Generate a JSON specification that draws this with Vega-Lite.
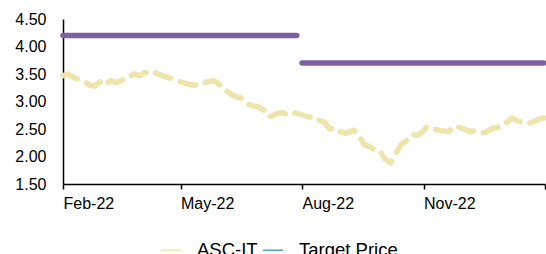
{
  "$schema": "https://vega.github.io/schema/vega-lite/v6.json",
  "width": 482,
  "height": 165,
  "autosize": {"type": "none"},
  "padding": {"left": 63, "top": 19, "right": 1, "bottom": 70},
  "config": {
    "view": {"stroke": null},
    "font": "Liberation Sans",
    "axis": {"labelFont": "Liberation Sans", "labelColor": "#000000", "domainColor": "#000000", "tickColor": "#000000", "grid": false, "title": null}
  },
  "datasets": {
    "price": [
      {"d": "2022-02-01", "v": 3.47}, {"d": "2022-02-05", "v": 3.5}, {"d": "2022-02-09", "v": 3.44},
      {"d": "2022-02-13", "v": 3.4}, {"d": "2022-02-17", "v": 3.37}, {"d": "2022-02-21", "v": 3.3},
      {"d": "2022-02-25", "v": 3.28}, {"d": "2022-03-01", "v": 3.36}, {"d": "2022-03-05", "v": 3.3},
      {"d": "2022-03-09", "v": 3.38}, {"d": "2022-03-13", "v": 3.34}, {"d": "2022-03-19", "v": 3.4},
      {"d": "2022-03-23", "v": 3.45}, {"d": "2022-03-27", "v": 3.5}, {"d": "2022-03-31", "v": 3.47},
      {"d": "2022-04-04", "v": 3.53}, {"d": "2022-04-08", "v": 3.5}, {"d": "2022-04-12", "v": 3.52},
      {"d": "2022-04-18", "v": 3.46}, {"d": "2022-04-24", "v": 3.42}, {"d": "2022-04-28", "v": 3.38},
      {"d": "2022-05-02", "v": 3.35}, {"d": "2022-05-06", "v": 3.32}, {"d": "2022-05-10", "v": 3.3},
      {"d": "2022-05-14", "v": 3.3}, {"d": "2022-05-20", "v": 3.35}, {"d": "2022-05-26", "v": 3.38},
      {"d": "2022-05-30", "v": 3.32}, {"d": "2022-06-03", "v": 3.22}, {"d": "2022-06-07", "v": 3.15},
      {"d": "2022-06-11", "v": 3.1}, {"d": "2022-06-15", "v": 3.07}, {"d": "2022-06-21", "v": 2.95},
      {"d": "2022-06-25", "v": 2.92}, {"d": "2022-06-29", "v": 2.9}, {"d": "2022-07-03", "v": 2.85},
      {"d": "2022-07-07", "v": 2.72}, {"d": "2022-07-13", "v": 2.78}, {"d": "2022-07-17", "v": 2.8},
      {"d": "2022-07-21", "v": 2.76}, {"d": "2022-07-25", "v": 2.8}, {"d": "2022-07-29", "v": 2.78},
      {"d": "2022-08-02", "v": 2.75}, {"d": "2022-08-06", "v": 2.72}, {"d": "2022-08-10", "v": 2.72},
      {"d": "2022-08-14", "v": 2.66}, {"d": "2022-08-18", "v": 2.62}, {"d": "2022-08-22", "v": 2.5},
      {"d": "2022-08-26", "v": 2.52}, {"d": "2022-08-30", "v": 2.45}, {"d": "2022-09-03", "v": 2.42},
      {"d": "2022-09-09", "v": 2.48}, {"d": "2022-09-13", "v": 2.38}, {"d": "2022-09-17", "v": 2.22},
      {"d": "2022-09-21", "v": 2.18}, {"d": "2022-09-25", "v": 2.12}, {"d": "2022-09-29", "v": 2.1},
      {"d": "2022-10-03", "v": 1.95}, {"d": "2022-10-07", "v": 1.88}, {"d": "2022-10-11", "v": 2.05},
      {"d": "2022-10-15", "v": 2.22}, {"d": "2022-10-19", "v": 2.28}, {"d": "2022-10-23", "v": 2.4},
      {"d": "2022-10-27", "v": 2.38}, {"d": "2022-10-31", "v": 2.45}, {"d": "2022-11-04", "v": 2.55},
      {"d": "2022-11-08", "v": 2.5}, {"d": "2022-11-12", "v": 2.48}, {"d": "2022-11-16", "v": 2.47},
      {"d": "2022-11-20", "v": 2.45}, {"d": "2022-11-24", "v": 2.55}, {"d": "2022-11-28", "v": 2.53},
      {"d": "2022-12-02", "v": 2.5}, {"d": "2022-12-06", "v": 2.45}, {"d": "2022-12-10", "v": 2.47},
      {"d": "2022-12-14", "v": 2.43}, {"d": "2022-12-18", "v": 2.44}, {"d": "2022-12-22", "v": 2.5},
      {"d": "2022-12-26", "v": 2.52}, {"d": "2022-12-30", "v": 2.55}, {"d": "2023-01-03", "v": 2.62},
      {"d": "2023-01-07", "v": 2.7}, {"d": "2023-01-11", "v": 2.65}, {"d": "2023-01-15", "v": 2.62},
      {"d": "2023-01-19", "v": 2.6}, {"d": "2023-01-23", "v": 2.63}, {"d": "2023-01-27", "v": 2.68},
      {"d": "2023-01-31", "v": 2.7}
    ],
    "target": [
      {"d": "2022-02-01", "v": 4.2, "seg": "a"},
      {"d": "2022-07-28", "v": 4.2, "seg": "a"},
      {"d": "2022-08-01", "v": 3.7, "seg": "b"},
      {"d": "2023-01-31", "v": 3.7, "seg": "b"}
    ]
  },
  "encoding": {
    "x": {
      "field": "d", "type": "temporal",
      "scale": {"type": "utc", "domain": [{"year": 2022, "month": 2, "date": 1, "utc": true}, {"year": 2023, "month": 2, "date": 1, "utc": true}]},
      "axis": {
        "values": [
          {"year": 2022, "month": 2, "date": 1, "utc": true},
          {"year": 2022, "month": 5, "date": 1, "utc": true},
          {"year": 2022, "month": 8, "date": 1, "utc": true},
          {"year": 2022, "month": 11, "date": 1, "utc": true},
          {"year": 2023, "month": 2, "date": 1, "utc": true}
        ],
        "labelExpr": "utcyear(datum.value) == 2023 ? '' : utcFormat(datum.value, '%b-%y')", "labelAlign": "left", "labelFontSize": 16,
        "labelPadding": 6, "tickSize": 5, "tickWidth": 1.5, "domainWidth": 1.5, "labelOverlap": false, "labelBound": false
      }
    },
    "y": {
      "field": "v", "type": "quantitative",
      "scale": {"domain": [1.5, 4.5], "nice": false, "zero": false},
      "axis": {"values": [1.5, 2, 2.5, 3, 3.5, 4, 4.5], "format": ".2f", "ticks": false, "labelPadding": 17, "labelFontSize": 16, "domainWidth": 1.5}
    },
    "color": {
      "datum": "ASC-IT",
      "scale": {"domain": ["ASC-IT", "Target Price"], "range": ["#EEE5AC", "#4FA3B8"]},
      "legend": {
        "orient": "none", "legendX": 97, "legendY": 220, "direction": "horizontal", "title": null,
        "symbolType": "stroke", "symbolSize": 400, "symbolStrokeWidth": 1.5,
        "labelFontSize": 18.5, "labelFont": "Liberation Sans", "labelColor": "#000000", "labelOffset": 15, "columnPadding": 2
      }
    }
  },
  "layer": [
    {
      "data": {"name": "price"},
      "mark": {"type": "line", "strokeWidth": 5.5, "strokeDash": [16, 10], "strokeCap": "round", "strokeJoin": "round", "interpolate": "linear"}
    },
    {
      "data": {"name": "target"},
      "mark": {"type": "line", "strokeWidth": 5.5, "strokeCap": "round"},
      "encoding": {
        "detail": {"field": "seg"},
        "color": {"datum": "Target Price"},
        "stroke": {"value": "#7D62A2"}
      }
    }
  ]
}
